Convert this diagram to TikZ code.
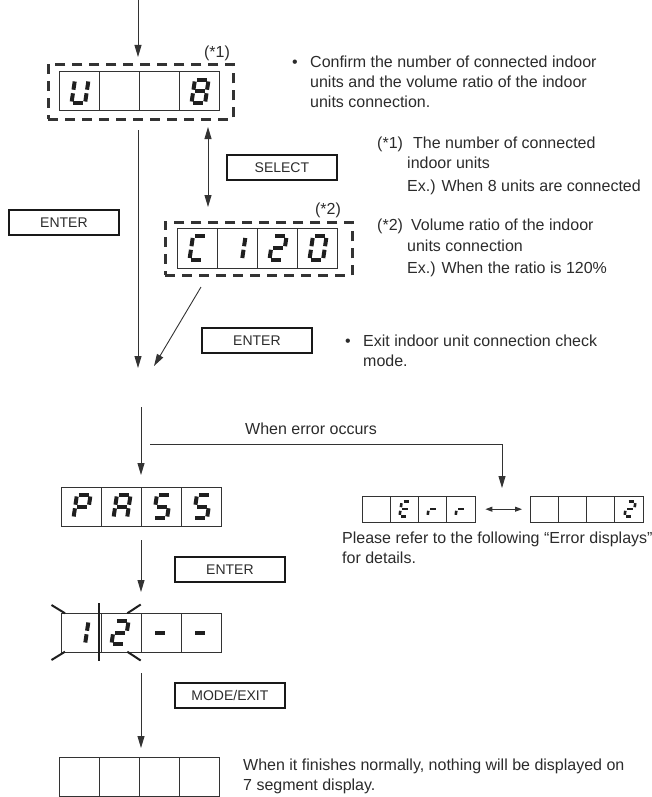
\documentclass[tikz,border=0pt]{standalone}
\usepackage{fontspec}
\setmainfont{Liberation Sans}
\usetikzlibrary{arrows.meta}
\definecolor{ink}{HTML}{333333}
\definecolor{txt}{HTML}{2B2B2B}
% segment lists for the 7-segment characters
\newcommand\chU{TR/MR,MR/BR,BL/BR,ML/BL,TL/ML}
\newcommand\chEight{TL/TR,TR/MR,MR/BR,BL/BR,ML/BL,TL/ML,ML/MR}
\newcommand\chC{TL/TR,BL/BR,ML/BL,TL/ML}
\newcommand\chOne{TR/MR,MR/BR}
\newcommand\chTwo{TL/TR,TR/MR,ML/MR,ML/BL,BL/BR}
\newcommand\chZero{TL/TR,TR/MR,MR/BR,BL/BR,ML/BL,TL/ML}
\newcommand\chP{TL/TR,TR/MR,ML/MR,ML/BL,TL/ML}
\newcommand\chA{TL/TR,TR/MR,MR/BR,ML/BL,TL/ML,ML/MR}
\newcommand\chS{TL/TR,TL/ML,ML/MR,MR/BR,BL/BR}
\newcommand\chE{TL/TR,TL/ML,ML/MR,ML/BL,BL/BR}
\newcommand\chR{ML/MR,ML/BL}
\newcommand\chDash{ML/MR}
% #1 x, #2 y, #3 half width, #4 half height, #5 line width, #6 segment list
\newcommand\segdigit[6]{%
  \begin{scope}[shift={(#1,#2)}, xslant=0.15]
    \coordinate (TL) at (-#3,-#4); \coordinate (TR) at (#3,-#4);
    \coordinate (ML) at (-#3,0);   \coordinate (MR) at (#3,0);
    \coordinate (BL) at (-#3,#4);  \coordinate (BR) at (#3,#4);
    \foreach \p/\q in #6 {\draw[segline, line width=#5] (\p) -- (\q);}
  \end{scope}}
\newcommand\bigdigit[3]{\segdigit{#1}{#2}{6.8}{11.8}{4pt}{#3}}
\newcommand\smalldigit[3]{\segdigit{#1}{#2}{4.4}{7.6}{2.6pt}{#3}}
% #1 left, #2 top, #3 cell width, #4 cell height, #5 number of cells
\newcommand\dispcells[5]{%
  \foreach \i in {1,...,#5} {\draw[cellline] ({#1+(\i-1)*#3},#2) rectangle ++(#3,#4);}}
\begin{document}
\begin{tikzpicture}[x=1pt,y=-1pt,
  every node/.style={text=txt},
  cellline/.style={draw=ink, line width=1pt},
  segline/.style={draw=black!88, line cap=butt, shorten <=1.8pt, shorten >=1.8pt},
  dashbox/.style={draw=ink, line width=2.6pt, dash pattern=on 10pt off 7pt, inner sep=0pt, anchor=north west},
  grp/.style={inner sep=0pt, anchor=north west},
  btn/.style={draw=black!90, line width=1.8pt, minimum width=110pt, minimum height=25pt, inner sep=0pt, anchor=north west, font=\fontsize{14}{16}\selectfont},
  arr/.style={draw=ink, line width=0.9pt, -{Triangle[length=12pt,width=7pt]}},
  darr/.style={draw=ink, line width=0.9pt, {Triangle[length=12pt,width=7pt]}-{Triangle[length=12pt,width=7pt]}},
  sarr/.style={draw=ink, line width=0.9pt, {Triangle[length=7pt,width=5pt]}-{Triangle[length=7pt,width=5pt]}},
  blink/.style={draw=black!88, line width=2pt},
  txtl/.style={anchor=base west, inner sep=0pt, font=\fontsize{16}{20}\selectfont},
  lab/.style={inner sep=0pt, font=\fontsize{16}{20}\selectfont}
]
\useasboundingbox (0,0) rectangle (651,797);

% ---------- display 1 : U _ _ 8 ----------
\node[dashbox, minimum width=185pt, minimum height=55pt] (g1) at (47,63) {};
\node[grp, minimum width=160pt, minimum height=39pt] (d1) at (59,72) {};
\dispcells{59}{72}{40}{39}{4}
\bigdigit{80}{91.5}{\chU}
\bigdigit{200}{91.5}{\chEight}
\node[lab] (l1) at (217,53) {(*1)};

% ---------- display 2 : C 1 2 0 ----------
\node[dashbox, minimum width=187pt, minimum height=53pt] (g2) at (164,221) {};
\node[grp, minimum width=160pt, minimum height=40pt] (d2) at (177,228) {};
\dispcells{177}{228}{40}{40}{4}
\bigdigit{198}{248}{\chC}
\bigdigit{237}{248}{\chOne}
\bigdigit{278}{248}{\chTwo}
\bigdigit{318}{248}{\chZero}
\node[lab] (l2) at (328,210) {(*2)};

% ---------- PASS ----------
\node[grp, minimum width=160pt, minimum height=39pt] (d3) at (61,487) {};
\dispcells{61}{487}{40}{39}{4}
\bigdigit{82}{506.5}{\chP}
\bigdigit{122}{506.5}{\chA}
\bigdigit{162}{506.5}{\chS}
\bigdigit{202}{506.5}{\chS}

% ---------- 1 2 - - ----------
\node[grp, minimum width=160pt, minimum height=39pt] (d4) at (61,613) {};
\dispcells{61}{613}{40}{39}{4}
\bigdigit{80}{632.5}{\chOne}
\bigdigit{120}{632.5}{\chTwo}
\bigdigit{160}{632.5}{\chDash}
\bigdigit{200}{632.5}{\chDash}
\draw[blink] (51.5,605) -- (65,613.3);
\draw[blink] (51.5,660) -- (65,651.7);
\draw[blink] (98.8,603) -- (98.8,661);
\draw[blink] (127.3,613.3) -- (140.7,604.5);
\draw[blink] (127.3,651.7) -- (140.7,660.5);

% ---------- blank ----------
\node[grp, minimum width=160pt, minimum height=39pt] (d5) at (59,757) {};
\dispcells{59}{757}{40}{39}{4}

% ---------- Err / 2 ----------
\node[grp, minimum width=113pt, minimum height=26pt] (d6) at (362,496) {};
\dispcells{362}{496}{28.25}{26}{4}
\smalldigit{405}{509}{\chE}
\smalldigit{433}{509}{\chR}
\smalldigit{461}{509}{\chR}
\node[grp, minimum width=113pt, minimum height=26pt] (d7) at (530,496) {};
\dispcells{530}{496}{28.25}{26}{4}
\smalldigit{630}{509}{\chTwo}

% ---------- buttons ----------
\node[btn] (b1) at (8,209) {ENTER};
\node[btn] (b2) at (226,154) {SELECT};
\node[btn] (b3) at (201,327) {ENTER};
\node[btn] (b4) at (174,556) {ENTER};
\node[btn] (b5) at (174,682) {MODE/EXIT};

% ---------- connectors ----------
\coordinate (c0) at (138,0);
\draw[arr, shorten >=6pt] (c0) -- (c0 |- g1.north);
\coordinate (c1) at (138,130);
\coordinate (c2) at (138,368);
\draw[arr] (c1) -- (c2);
\coordinate (s1) at (208,127);
\coordinate (s2) at (208,207);
\draw[darr] (s1) -- (s2);
\coordinate (e1) at (201,287);
\coordinate (e2) at (154,366);
\draw[arr] (e1) -- (e2);
\coordinate (c3) at (141,407);
\draw[arr, shorten >=12pt] (c3) -- (c3 |- d3.north);
\coordinate (c4) at (141,540);
\draw[arr, shorten >=21pt] (c4) -- (c4 |- d4.north);
\coordinate (c5) at (141,673);
\draw[arr, shorten >=9pt] (c5) -- (c5 |- d5.north);
\coordinate (h1) at (150,444);
\coordinate (h2) at (502,488);
\draw[arr] (h1) -| (h2);
\draw[sarr, shorten <=10pt, shorten >=8pt] (d6.east) -- (d7.west);

% ---------- texts ----------
\node[txtl] (t1b) at (292,68) {•};
\node[txtl] (t1a) at (310,68) {Confirm the number of connected indoor};
\node[txtl] (t1c) at (310,88) {units and the volume ratio of the indoor};
\node[txtl] (t1d) at (310,108) {units connection.};

\node[txtl] (n1a) at (377,148) {(*1)};
\node[txtl] (n1b) at (413,148) {The number of connected};
\node[txtl] (n1c) at (407,168) {indoor units};
\node[txtl] (n1d) at (407,191) {Ex.) When 8 units are connected};

\node[txtl] (n2a) at (377,230) {(*2)};
\node[txtl] (n2b) at (411,230) {Volume ratio of the indoor};
\node[txtl] (n2c) at (407,251) {units connection};
\node[txtl] (n2d) at (407,273) {Ex.) When the ratio is 120\%};

\node[txtl] (x1b) at (345,346) {•};
\node[txtl] (x1a) at (363,346) {Exit indoor unit connection check};
\node[txtl] (x1c) at (363,366) {mode.};

\node[txtl] (w1) at (245,434) {When error occurs};
\node[txtl] (p1) at (342,543) {Please refer to the following “Error displays”};
\node[txtl] (p2) at (342,563) {for details.};

\node[txtl] (f1) at (243,770) {When it finishes normally, nothing will be displayed on};
\node[txtl] (f2) at (243,790) {7 segment display.};
\end{tikzpicture}
\end{document}
